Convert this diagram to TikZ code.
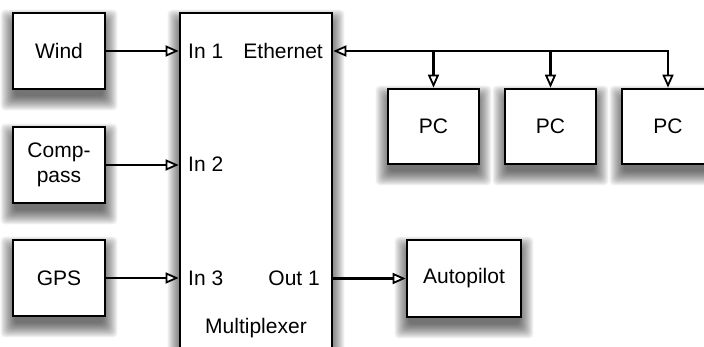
\documentclass[tikz,border=0pt]{standalone}
\usepackage{fontspec}
\setmainfont{Liberation Sans}
\usetikzlibrary{arrows.meta,backgrounds}
% soft shadow under a node
\newcommand{\softshadow}[1]{%
	\foreach \s in {-3,...,11}{
		\fill[black,opacity=0.05,rounded corners=4pt]
			([xshift={-\s*1pt},yshift={-(\s+9)*1pt}]#1.south west) rectangle ([xshift={\s*1pt},yshift={(\s-9)*1pt}]#1.north east);}}
\begin{document}
\begin{tikzpicture}[x=1pt,y=-1pt]
		\tikzset{>={Triangle[open,length=13pt,width=11pt,line width=1.8pt,fill=white]}}
		\tikzset{block/.style={draw,line width=2.7pt,fill=white,inner sep=0pt,align=center,
				font=\fontsize{21}{25}\selectfont},
			port/.style={inner sep=0pt,font=\fontsize{21}{25}\selectfont},
			link/.style={->,line width=2.1pt}}
		\useasboundingbox (0,0) rectangle (704,347);
		\clip (0,0) rectangle (704,347);
		% sources
		\node[block,minimum width=92pt,minimum height=76pt] (wind) at (59,51) {Wind};
		\node[block,minimum width=92pt,minimum height=76pt] (compass) at (59,165) {Comp-\\pass};
		\node[block,minimum width=92pt,minimum height=76pt] (gps) at (59,278) {GPS};
		% multiplexer
		\node[block,minimum width=152pt,minimum height=400pt] (mux) at (256,213) {};
		\node[port,anchor=west] (in1) at (188,51) {In 1};
		\node[port,anchor=west] (in2) at (188,164) {In 2};
		\node[port,anchor=west] (in3) at (188,278) {In 3};
		\node[port,anchor=east] (eth) at (323,51) {Ethernet};
		\node[port,anchor=east] (out1) at (320,278) {Out 1};
		\node[port,anchor=base] (muxlabel) at (256,334) {Multiplexer};
		% sinks
		\node[block,minimum width=91pt,minimum height=75pt] (pc1) at (433.5,126.5) {PC};
		\node[block,minimum width=91pt,minimum height=75pt] (pc2) at (550.5,126.5) {PC};
		\node[block,minimum width=92pt,minimum height=75pt] (pc3) at (668,126.5) {PC};
		\node[block,minimum width=114pt,minimum height=77pt] (autopilot) at (464,278.5) {Autopilot};
		% shadows
		\begin{scope}[on background layer]
			\clip (0,0) rectangle (704,347);
			\foreach \b in {wind,compass,gps,mux,pc1,pc2,pc3,autopilot}{
				\softshadow{\b}}
		\end{scope}
		% connections
		\draw[link] (wind.east) -- (wind.east -| mux.west);
		\draw[link] (compass.east) -- (compass.east -| mux.west);
		\draw[link] (gps.east) -- (gps.east -| mux.west);
		\draw[link] (autopilot.west -| mux.east) -- (autopilot.west);
		\draw[link,<->] (eth.east -| mux.east) -| (pc3.north);
		\foreach \pc in {pc1,pc2}
			\draw[link] (eth.east -| \pc.north) -- (\pc.north);
	    \end{tikzpicture}
\end{document}
